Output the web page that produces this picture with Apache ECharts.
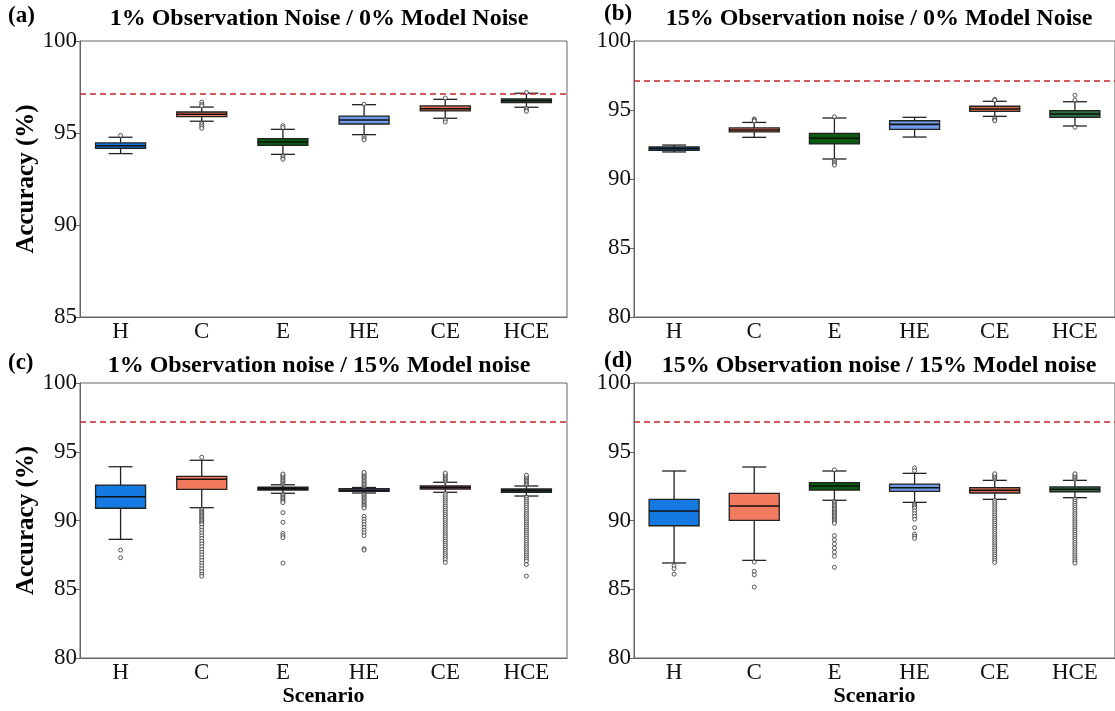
<!DOCTYPE html>
<html>
<head>
<meta charset="utf-8">
<script src="https://cdn.jsdelivr.net/npm/echarts@6/dist/echarts.min.js"></script>
<style>html,body{margin:0;padding:0;background:#fff}#c{width:1115px;height:711px}</style>
</head>
<body>
<div id="c"></div>
<script>
// ---- data ----
const categories = ['H', 'C', 'E', 'HE', 'CE', 'HCE'];
const panelTitles = [
  '1% Observation Noise / 0% Model Noise',
  '15% Observation noise / 0% Model Noise',
  '1% Observation noise / 15% Model noise',
  '15% Observation noise / 15% Model noise'
];
const panelLetters = ['(a)', '(b)', '(c)', '(d)'];
const referenceLine = 97.15;
const yMins = [85, 80, 80, 80];
const yTicks = [5, 5, 5, 5];

// [whisker low, Q1, median, Q3, whisker high]
const boxA = [
  [93.88, 94.17, 94.31, 94.46, 94.77],
  [95.64, 95.89, 96.02, 96.14, 96.41],
  [93.84, 94.33, 94.51, 94.69, 95.20],
  [94.91, 95.49, 95.71, 95.92, 96.54],
  [95.80, 96.20, 96.32, 96.47, 96.83],
  [96.40, 96.65, 96.76, 96.85, 97.16]
];
const outA = [
  [94.87],
  [96.68, 96.55, 96.47, 95.53, 95.45, 95.35, 95.25],
  [95.40, 95.30, 93.75, 93.65, 93.57],
  [96.56, 94.80, 94.70, 94.62],
  [96.90, 95.71, 95.60],
  [97.20, 96.34, 96.25, 96.18]
];
const boxB = [
  [91.96, 92.08, 92.20, 92.32, 92.46],
  [93.02, 93.41, 93.55, 93.70, 94.10],
  [91.45, 92.54, 92.95, 93.31, 94.42],
  [93.04, 93.60, 93.96, 94.22, 94.47],
  [94.54, 94.90, 95.07, 95.27, 95.63],
  [93.84, 94.47, 94.71, 94.95, 95.60]
];
const outB = [
  [],
  [94.35, 94.28, 94.20],
  [94.51, 91.33, 91.20, 91.10, 91.00],
  [],
  [95.77, 95.70, 94.40, 94.30, 94.22],
  [96.07, 95.72, 93.75]
];
const boxC = [
  [88.63, 90.89, 91.73, 92.58, 93.91],
  [90.93, 92.27, 93.00, 93.21, 94.38],
  [91.98, 92.22, 92.32, 92.42, 92.60],
  [92.00, 92.12, 92.20, 92.31, 92.40],
  [92.05, 92.29, 92.40, 92.51, 92.78],
  [91.78, 92.05, 92.17, 92.29, 92.51]
];
const outC = [
  [87.85, 87.30],
  [94.60, 90.80, 90.70, 90.60, 90.50, 90.40, 90.30, 90.20, 90.10, 90.00, 89.90, 89.80, 89.70, 89.50, 89.30, 89.10, 88.90, 88.70, 88.50, 88.30, 88.10, 87.90, 87.70, 87.50, 87.30, 87.10, 86.90, 86.70, 86.50, 86.30, 86.10, 85.95],
  [92.70, 92.80, 92.90, 93.00, 93.10, 93.20, 93.30, 93.38, 91.90, 91.80, 91.70, 91.60, 91.50, 91.40, 91.30, 90.57, 89.87, 89.06, 88.90, 88.75, 86.90],
  [92.50, 92.60, 92.70, 92.80, 92.90, 93.00, 93.10, 93.20, 93.30, 93.40, 93.50, 91.90, 91.80, 91.70, 91.60, 91.50, 91.40, 91.30, 91.20, 91.10, 91.00, 90.90, 90.30, 90.10, 89.90, 89.70, 89.50, 89.30, 89.10, 88.90, 87.95, 87.85],
  [92.85, 92.95, 93.05, 93.15, 93.25, 93.35, 93.45, 91.95, 91.80, 91.65, 91.50, 91.35, 91.20, 91.05, 90.90, 90.75, 90.60, 90.45, 90.30, 90.15, 90.00, 89.85, 89.70, 89.55, 89.40, 89.25, 89.10, 88.95, 88.80, 88.65, 88.50, 88.35, 88.20, 88.05, 87.90, 87.75, 87.60, 87.45, 87.30, 87.15, 86.95],
  [92.60, 92.70, 92.80, 92.90, 93.00, 93.10, 93.20, 93.30, 91.70, 91.55, 91.40, 91.25, 91.10, 90.95, 90.80, 90.65, 90.50, 90.35, 90.20, 90.05, 89.90, 89.75, 89.60, 89.45, 89.30, 89.15, 89.00, 88.85, 88.70, 88.55, 88.40, 88.25, 88.10, 87.95, 87.80, 87.65, 87.50, 87.35, 87.20, 87.05, 86.80, 85.96]
];
const boxD = [
  [86.91, 89.62, 90.69, 91.54, 93.60],
  [87.10, 90.01, 91.05, 91.98, 93.89],
  [91.47, 92.22, 92.51, 92.75, 93.60],
  [91.32, 92.12, 92.38, 92.65, 93.43],
  [91.54, 92.00, 92.20, 92.39, 92.92],
  [91.66, 92.09, 92.27, 92.44, 92.92]
];
const outD = [
  [86.71, 86.50, 86.10],
  [86.98, 86.30, 86.05, 85.16],
  [93.69, 91.40, 91.30, 91.20, 91.10, 91.00, 90.90, 90.80, 90.70, 90.60, 90.50, 90.40, 90.30, 90.20, 90.10, 90.00, 89.90, 89.80, 88.90, 88.60, 88.30, 88.00, 87.70, 87.40, 86.60],
  [93.82, 93.62, 91.20, 91.10, 91.00, 90.90, 90.70, 90.50, 90.30, 90.10, 89.48, 89.00, 88.85, 88.70],
  [93.00, 93.10, 93.20, 93.30, 93.40, 91.45, 91.30, 91.15, 91.00, 90.85, 90.70, 90.55, 90.40, 90.25, 90.10, 89.95, 89.80, 89.65, 89.50, 89.35, 89.20, 89.05, 88.90, 88.75, 88.60, 88.45, 88.30, 88.15, 88.00, 87.85, 87.70, 87.55, 87.40, 87.25, 87.10, 86.95],
  [93.00, 93.10, 93.20, 93.30, 93.40, 91.55, 91.40, 91.25, 91.10, 90.95, 90.80, 90.65, 90.50, 90.35, 90.20, 90.05, 89.90, 89.75, 89.60, 89.45, 89.30, 89.15, 89.00, 88.85, 88.70, 88.55, 88.40, 88.25, 88.10, 87.95, 87.80, 87.65, 87.50, 87.35, 87.20, 87.05, 86.90]
];
const boxes = [boxA, boxB, boxC, boxD];
const outliers = [outA, outB, outC, outD];
const boxColors = ['#1479e0', '#f27a5e', '#0b5a12', '#6f9ae8', '#d86c4c', '#2c6e3e'];

// ---- layout ----
const grids = [
  {left: 80, top: 41, width: 487, height: 276},
  {left: 634, top: 41, width: 486, height: 276},
  {left: 80, top: 383, width: 487, height: 275},
  {left: 634, top: 383, width: 486, height: 275}
];
const FONT = 'Liberation Serif';
const axisColor = '#666';
const BOX_HALF = 25, CAP_HALF = 12;

function renderBox(params, api) {
  const x = api.value(0);
  const low = api.coord([x, api.value(1)]);
  const q1 = api.coord([x, api.value(2)]);
  const med = api.coord([x, api.value(3)]);
  const q3 = api.coord([x, api.value(4)]);
  const high = api.coord([x, api.value(5)]);
  const cx = low[0];
  const fill = boxColors[params.dataIndex];
  const ls = {stroke: '#222', lineWidth: 1.3};
  return {
    type: 'group',
    children: [
      {type: 'line', shape: {x1: cx, y1: high[1], x2: cx, y2: q3[1]}, style: ls},
      {type: 'line', shape: {x1: cx, y1: q1[1], x2: cx, y2: low[1]}, style: ls},
      {type: 'line', shape: {x1: cx - CAP_HALF, y1: high[1], x2: cx + CAP_HALF, y2: high[1]}, style: ls},
      {type: 'line', shape: {x1: cx - CAP_HALF, y1: low[1], x2: cx + CAP_HALF, y2: low[1]}, style: ls},
      {type: 'rect', shape: {x: cx - BOX_HALF, y: q3[1], width: 2 * BOX_HALF, height: Math.max(q1[1] - q3[1], 1)},
        style: {fill: fill, stroke: '#222', lineWidth: 1.3}},
      {type: 'line', shape: {x1: cx - BOX_HALF, y1: med[1], x2: cx + BOX_HALF, y2: med[1]}, style: {stroke: '#111', lineWidth: 1.6}}
    ]
  };
}

const option = {
  backgroundColor: '#fff',
  animation: false,
  title: [],
  grid: grids.map(g => Object.assign({show: true, borderColor: axisColor, borderWidth: 1, containLabel: false}, g)),
  xAxis: [],
  yAxis: [],
  series: []
};

const titlePos = [[314, 2], [874, 2], [314, 349], [874, 349]];
const letterPos = [[3, 0], [599, -2], [3, 347], [599, 345]];
for (let i = 0; i < 4; i++) {
  option.title.push({
    text: panelTitles[i], left: titlePos[i][0], top: titlePos[i][1], textAlign: 'center',
    textStyle: {fontFamily: FONT, fontWeight: 'bold', fontSize: 24, color: '#000'}
  });
  option.title.push({
    text: panelLetters[i], left: letterPos[i][0], top: letterPos[i][1],
    textStyle: {fontFamily: FONT, fontWeight: 'bold', fontSize: 23, color: '#000'}
  });
  option.xAxis.push({
    type: 'category', gridIndex: i, data: categories, boundaryGap: true,
    name: i >= 2 ? 'Scenario' : '', nameLocation: 'middle', nameGap: 24,
    nameTextStyle: {fontFamily: FONT, fontWeight: 'bold', fontSize: 22, color: '#000'},
    axisLine: {lineStyle: {color: axisColor, width: 1}},
    axisTick: {inside: true, length: 4, alignWithLabel: true, lineStyle: {color: axisColor}},
    axisLabel: {fontFamily: FONT, fontSize: 23, color: '#111', margin: 3},
    splitLine: {show: false}
  });
  option.yAxis.push({
    type: 'value', gridIndex: i, min: yMins[i], max: 100, interval: yTicks[i],
    name: (i % 2 === 0) ? 'Accuracy (%)' : '', nameLocation: 'middle', nameGap: 38, nameRotate: 90,
    nameTextStyle: {fontFamily: FONT, fontWeight: 'bold', fontSize: 25, color: '#000'},
    axisLine: {show: true, lineStyle: {color: axisColor, width: 1}},
    axisTick: {show: true, inside: false, length: 4, lineStyle: {color: axisColor}},
    axisLabel: {fontFamily: FONT, fontSize: 23, color: '#111', margin: 3},
    splitLine: {show: false}
  });
  option.series.push({
    type: 'custom', xAxisIndex: i, yAxisIndex: i,
    renderItem: renderBox,
    data: boxes[i].map((v, k) => [k].concat(v)),
    encode: {x: 0, y: [1, 2, 3, 4, 5]},
    markLine: {
      silent: true, symbol: 'none', label: {show: false},
      lineStyle: {color: '#c0282c', type: [6, 4], width: 1.6},
      data: [{yAxis: referenceLine}]
    },
    z: 2
  });
  const pts = [];
  outliers[i].forEach((arr, k) => arr.forEach(v => pts.push([k, v])));
  option.series.push({
    type: 'scatter', xAxisIndex: i, yAxisIndex: i, data: pts,
    symbol: 'circle', symbolSize: 4,
    itemStyle: {color: '#fff', borderColor: '#333', borderWidth: 1},
    z: 3
  });
}

const chart = echarts.init(document.getElementById('c'), null, {renderer: 'canvas'});
chart.setOption(option);
</script>
</body>
</html>
